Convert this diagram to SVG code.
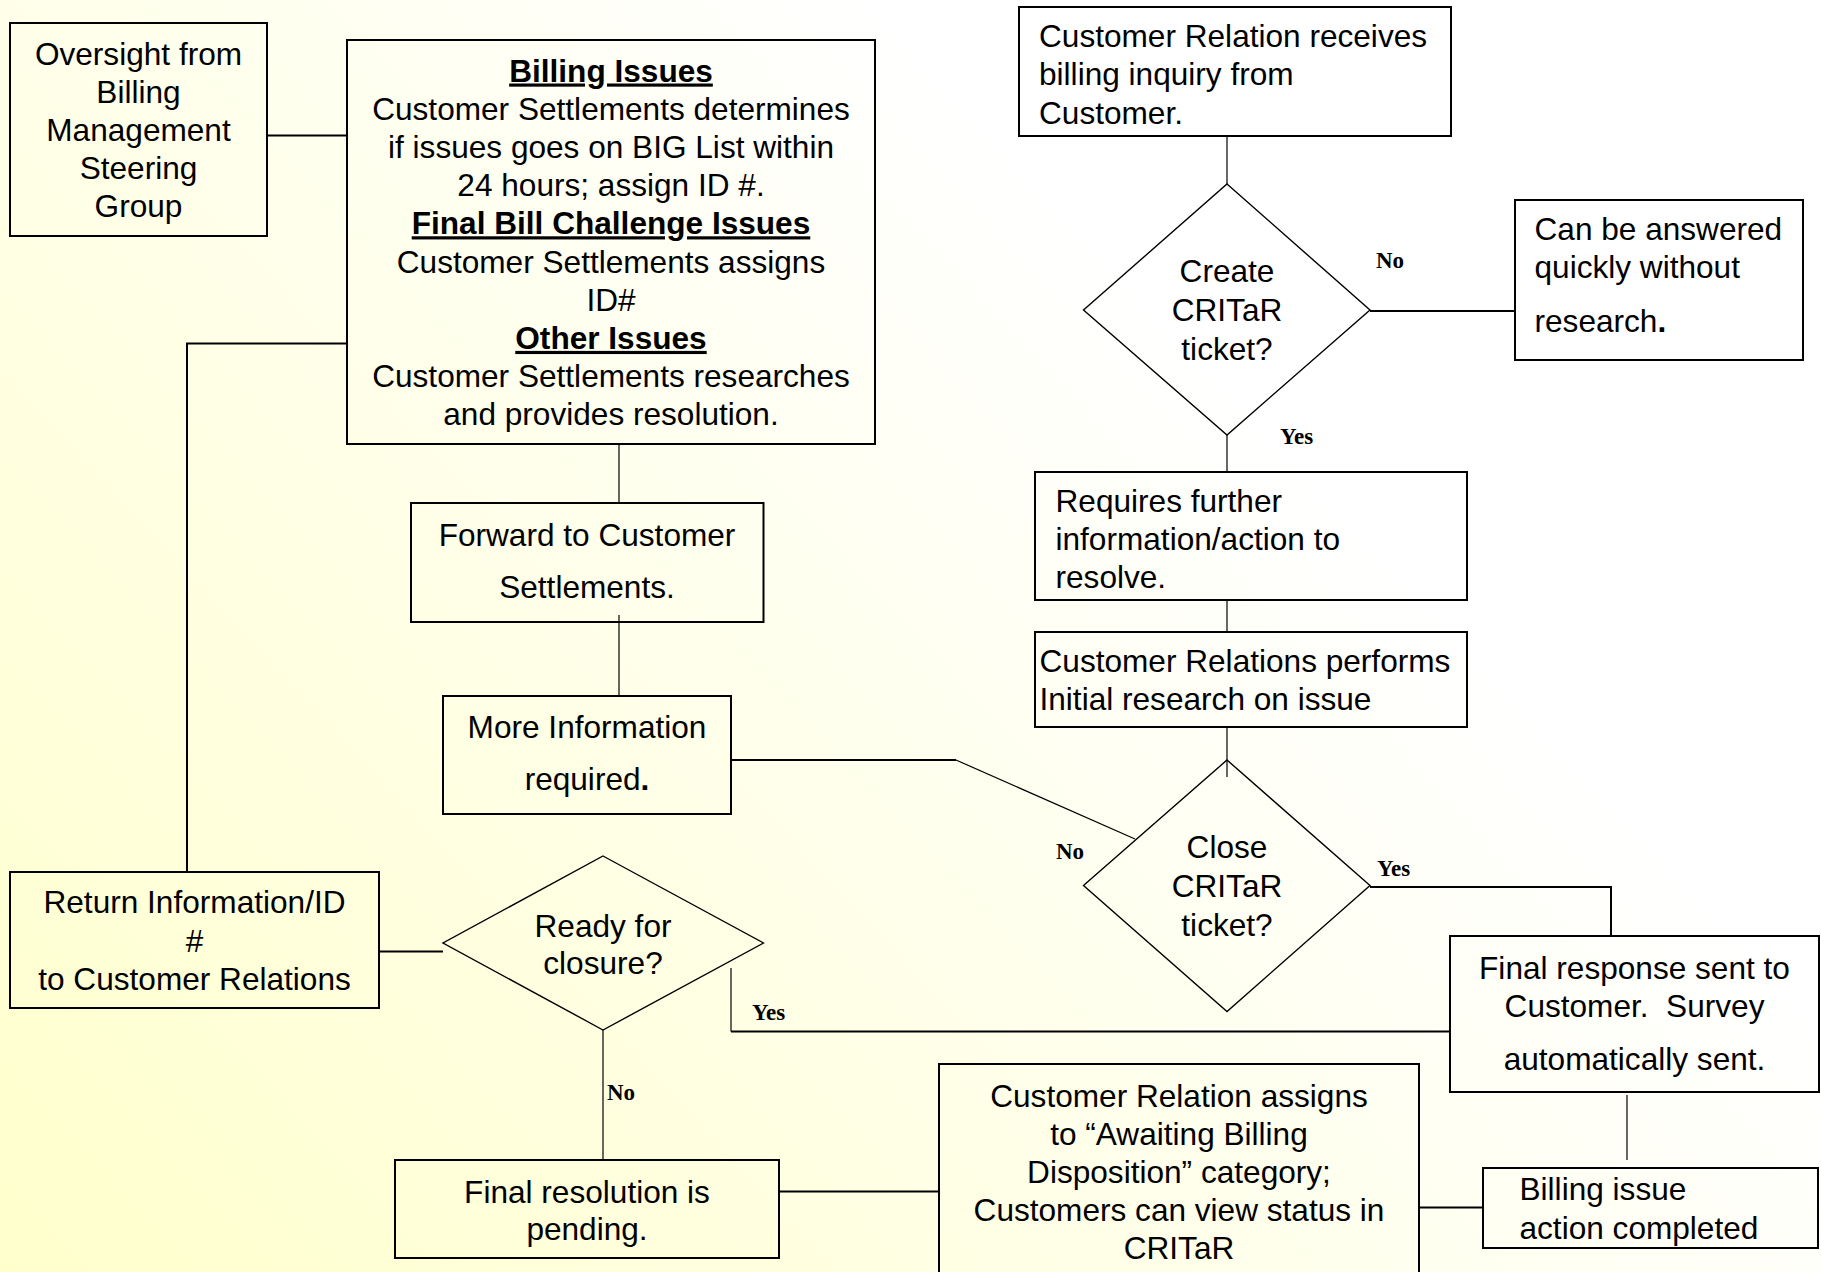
<svg xmlns="http://www.w3.org/2000/svg" width="1821" height="1272" viewBox="0 0 1821 1272">
<defs>
<linearGradient id="bg" gradientUnits="userSpaceOnUse" x1="0" y1="1272" x2="1100" y2="250">
<stop offset="0" stop-color="#FFFFCC"/>
<stop offset="1" stop-color="#FFFFFF"/>
</linearGradient>
<style>
.box{fill:none;stroke:#000;stroke-width:2}
.dia{fill:none;stroke:#000;stroke-width:1.4}
.t{font-family:"Liberation Sans",Arial,sans-serif;font-size:31.6px;fill:#000}
.c{text-anchor:middle}
.h{font-weight:bold;text-decoration:underline}
.lbl{font-family:"Liberation Serif","Times New Roman",serif;font-size:23px;font-weight:bold;fill:#000}
.thick{fill:none;stroke:#000;stroke-width:2}
.thin{fill:none;stroke:#000;stroke-width:1.2}
</style>
</defs>
<rect x="0" y="0" width="1821" height="1272" fill="url(#bg)"/>

<g id="connectors">
<line class="thick" x1="267" y1="135.5" x2="347" y2="135.5"/>
<polyline class="thick" points="347,343.5 187,343.5 187,872"/>
<line class="thin" x1="619" y1="444" x2="619" y2="503"/>
<line class="thin" x1="619" y1="615" x2="619" y2="696"/>
<line class="thick" x1="731" y1="760" x2="956" y2="760"/>
<line class="thin" x1="956" y1="760" x2="1135" y2="839"/>
<line class="thin" x1="1227" y1="136" x2="1227" y2="184"/>
<line class="thick" x1="1370" y1="311" x2="1515" y2="311"/>
<line class="thin" x1="1227" y1="435" x2="1227" y2="472"/>
<line class="thin" x1="1227" y1="600" x2="1227" y2="632"/>
<line class="thin" x1="1227" y1="727" x2="1227" y2="777"/>
<polyline class="thick" points="1370,887 1611,887 1611,936"/>
<line class="thick" x1="379" y1="951.5" x2="443" y2="951.5"/>
<line class="thin" x1="731" y1="968" x2="731" y2="1031.5"/>
<line class="thick" x1="731" y1="1031.5" x2="1450" y2="1031.5"/>
<line class="thin" x1="603" y1="1030" x2="603" y2="1160"/>
<line class="thick" x1="779" y1="1191.5" x2="939" y2="1191.5"/>
<line class="thick" x1="1419" y1="1207.5" x2="1483" y2="1207.5"/>
<line class="thin" x1="1627" y1="1095" x2="1627" y2="1160"/>
<text class="lbl" x="1376" y="268">No</text>
<text class="lbl" x="1280" y="444">Yes</text>
<text class="lbl" x="1056" y="859">No</text>
<text class="lbl" x="1377" y="876">Yes</text>
<text class="lbl" x="752" y="1020">Yes</text>
<text class="lbl" x="607" y="1100">No</text>
</g>

<g id="oversight">
<rect class="box" x="10" y="23" width="257" height="213"/>
<text class="t c" x="138.5" y="65">Oversight from</text>
<text class="t c" x="138.5" y="103">Billing</text>
<text class="t c" x="138.5" y="141">Management</text>
<text class="t c" x="138.5" y="179">Steering</text>
<text class="t c" x="138.5" y="217">Group</text>
</g>

<g id="issues">
<rect class="box" x="347" y="40" width="528" height="404"/>
<text class="t c h" x="611" y="81.5">Billing Issues</text>
<text class="t c" x="611" y="119.7">Customer Settlements determines</text>
<text class="t c" x="611" y="157.9">if issues goes on BIG List within</text>
<text class="t c" x="611" y="196.1">24 hours; assign ID #.</text>
<text class="t c h" x="611" y="234.3">Final Bill Challenge Issues</text>
<text class="t c" x="611" y="272.5">Customer Settlements assigns</text>
<text class="t c" x="611" y="310.7">ID#</text>
<text class="t c h" x="611" y="348.9">Other Issues</text>
<text class="t c" x="611" y="387.1">Customer Settlements researches</text>
<text class="t c" x="611" y="425.3">and provides resolution.</text>
</g>

<g id="forward">
<rect class="box" x="411" y="503" width="352.5" height="119"/>
<text class="t c" x="587" y="546">Forward to Customer</text>
<text class="t c" x="587" y="597.5">Settlements.</text>
</g>

<g id="moreinfo">
<rect class="box" x="443" y="696" width="288" height="118"/>
<text class="t c" x="587" y="737.5">More Information</text>
<text class="t c" x="587" y="790">required<tspan font-weight="bold">.</tspan></text>
</g>

<g id="receives">
<rect class="box" x="1019" y="7" width="432" height="129"/>
<text class="t" x="1039" y="47">Customer Relation receives</text>
<text class="t" x="1039" y="85">billing inquiry from</text>
<text class="t" x="1039" y="123.5">Customer.</text>
</g>

<g id="create">
<polygon class="dia" points="1227,184 1370,310 1227,435 1083.5,310"/>
<text class="t c" x="1227" y="282">Create</text>
<text class="t c" x="1227" y="321">CRITaR</text>
<text class="t c" x="1227" y="360">ticket?</text>
</g>

<g id="answered">
<rect class="box" x="1515" y="200" width="288" height="160"/>
<text class="t" x="1534.5" y="239.5">Can be answered</text>
<text class="t" x="1534.5" y="277.5">quickly without</text>
<text class="t" x="1534.5" y="331.5">research<tspan font-weight="bold">.</tspan></text>
</g>

<g id="requires">
<rect class="box" x="1035" y="472" width="432" height="128"/>
<text class="t" x="1055.5" y="512">Requires further</text>
<text class="t" x="1055.5" y="550">information/action to</text>
<text class="t" x="1055.5" y="588">resolve.</text>
</g>

<g id="performs">
<rect class="box" x="1035" y="632" width="432" height="95"/>
<text class="t" x="1039.5" y="672">Customer Relations performs</text>
<text class="t" x="1039.5" y="710">Initial research on issue</text>
</g>

<g id="close">
<polygon class="dia" points="1227,760 1370,885.5 1227,1011.5 1083.5,885.5"/>
<text class="t c" x="1227" y="858">Close</text>
<text class="t c" x="1227" y="897">CRITaR</text>
<text class="t c" x="1227" y="936">ticket?</text>
</g>

<g id="final-response">
<rect class="box" x="1450" y="936" width="369" height="156"/>
<text class="t c" x="1634.5" y="978.5">Final response sent to</text>
<text class="t c" x="1634.5" y="1016.8">Customer.&#160; Survey</text>
<text class="t c" x="1634.5" y="1070">automatically sent.</text>
</g>

<g id="return">
<rect class="box" x="10" y="872" width="369" height="136"/>
<text class="t c" x="194.5" y="913.4">Return Information/ID</text>
<text class="t c" x="194.5" y="951.7">#</text>
<text class="t c" x="194.5" y="990">to Customer Relations</text>
</g>

<g id="ready">
<polygon class="dia" points="603,856 763.5,943 603,1030 443,943"/>
<text class="t c" x="603" y="936.5">Ready for</text>
<text class="t c" x="603" y="974">closure?</text>
</g>

<g id="pending">
<rect class="box" x="395" y="1160" width="384" height="98"/>
<text class="t c" x="587" y="1202.5">Final resolution is</text>
<text class="t c" x="587" y="1240">pending.</text>
</g>

<g id="assigns">
<rect class="box" x="939" y="1064" width="480" height="230"/>
<text class="t c" x="1179" y="1106.5">Customer Relation assigns</text>
<text class="t c" x="1179" y="1144.5">to “Awaiting Billing</text>
<text class="t c" x="1179" y="1182.5">Disposition” category;</text>
<text class="t c" x="1179" y="1220.5">Customers can view status in</text>
<text class="t c" x="1179" y="1258.5">CRITaR</text>
</g>

<g id="completed">
<rect class="box" x="1483" y="1168" width="335" height="80"/>
<text class="t" x="1519.5" y="1200">Billing issue</text>
<text class="t" x="1519.5" y="1238.5">action completed</text>
</g>
</svg>
